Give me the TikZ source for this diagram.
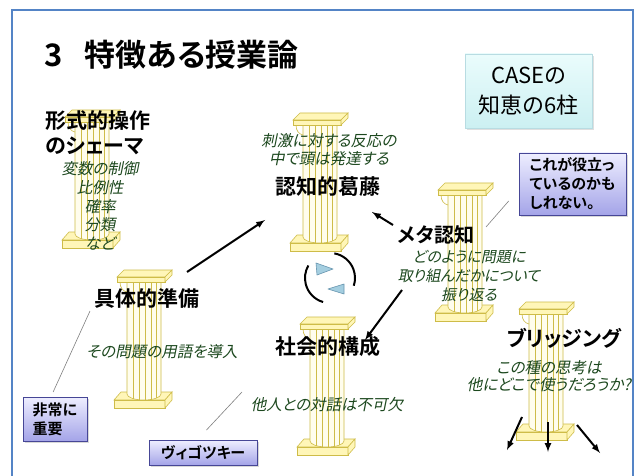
\documentclass[tikz,border=0pt]{standalone}
\usepackage{fontspec}
\usetikzlibrary{positioning,shadows}

\newfontfamily\jp[RawFeature=+palt,BoldFont={Noto Sans CJK JP Bold}]{Noto Sans CJK JP}
\newfontfamily\jpslant[RawFeature=+palt,FakeSlant=0.2]{Noto Sans CJK JP}

\definecolor{frameblue}{RGB}{84,132,198}
\definecolor{pillarline}{RGB}{206,188,72}
\definecolor{pillarfill}{RGB}{255,246,184}
\definecolor{hintgreen}{RGB}{28,72,30}
\definecolor{notetop}{RGB}{238,238,255}
\definecolor{notebottom}{RGB}{164,164,232}
\definecolor{noteedge}{RGB}{70,70,150}
\definecolor{casetop}{RGB}{234,252,252}
\definecolor{casebottom}{RGB}{204,240,242}
\definecolor{caseedge}{RGB}{184,220,226}
\definecolor{cyclefill}{RGB}{164,206,224}
\definecolor{cycleedge}{RGB}{104,150,176}

\tikzstyle{pillar line} = [pillarline, line width=0.6pt]
\tikzstyle{pillar face} = [pillar line, fill=pillarfill]
\tikzstyle{pillar shaft} = [pillar line, fill=pillarfill!25]
\tikzstyle{head} = [font=\jp\bfseries\fontsize{21}{25}\selectfont, align=center, inner sep=1pt]
\tikzstyle{hint} = [font=\jpslant\fontsize{15.5}{18.6}\selectfont, text=hintgreen, align=center, inner sep=1pt]
\tikzstyle{note} = [draw=noteedge, line width=0.8pt, top color=notetop, bottom color=notebottom,
   font=\jp\bfseries\fontsize{15}{19}\selectfont, align=left,
   drop shadow={shadow xshift=2pt, shadow yshift=-2pt, opacity=0.3}]
\tikzstyle{legend} = [draw=caseedge, top color=casetop, bottom color=casebottom,
   font=\jp\fontsize{22}{30}\selectfont, align=center,
   drop shadow={shadow xshift=2pt, shadow yshift=-2pt, opacity=0.25}]
\tikzstyle{pointer} = [gray, line width=0.6pt]
\tikzstyle{push} = [black, line width=2pt, -latex]
\tikzstyle{turn} = [black, line width=2pt]
\tikzstyle{turn head} = [draw=cycleedge, fill=cyclefill, line width=0.6pt, line join=round]

\tikzset{
  pillar/.pic={
    % base slab
    \filldraw[pillar face] (-30,130) -- (-23,122) -- (28,122) -- (21,130) -- cycle;
    \filldraw[pillar face] (-30,130) rectangle (21,138);
    \filldraw[pillar face] (21,130) -- (28,122) -- (28,130) -- (21,138) -- cycle;
    % fluted shaft
    \filldraw[pillar shaft] (-17,12) -- (-17,124)
      arc[start angle=180, end angle=0, x radius=17, y radius=6] -- (17,12) -- cycle;
    \foreach \x/\y in {-11/128.5, -5/129.6, 1/130, 7/129.5, 12/128.2}
      \draw[pillar line] (\x,12) -- (\x,\y);
    % capital with its scroll
    \draw[pillar line] (-24,12) .. controls (-24,18) and (-21,21) .. (-17,22);
    \filldraw[pillar face] (-27,7) -- (-20,0) -- (28,0) -- (21,7) -- cycle;
    \filldraw[pillar face] (-27,7) rectangle (21,12);
    \filldraw[pillar face] (21,7) -- (28,0) -- (28,5) -- (21,12) -- cycle;
  }
}

\begin{document}
\begin{tikzpicture}[x=1pt, y=-1pt]
  \useasboundingbox (0,0) rectangle (635,476);
  \fill[white] (0,0) rectangle (635,476);
  \draw[frameblue, line width=2pt] (12,482) |- (633,10) -- (633,482);

  % the six pillars
  \foreach \px/\py in {92/110, 320/113, 144/270, 327/317, 465/183, 546/302}
    \pic at (\px,\py) {pillar};

  \node[anchor=west, inner sep=0pt, font=\jp\bfseries\fontsize{31}{36}\selectfont] (title)
    at (44,55) {3\hspace{22pt}特徴ある授業論};
  \node[legend, minimum width=127pt, minimum height=74pt] (case) at (528.5,91) {CASEの\\知恵の6柱};

  % pillar names and what they mean
  \node[head, align=left, anchor=west] (formal) at (44,132.5) {形式的操作\\のシェーマ};
  \node[hint] (formal list) at (100,206) {変数の制御\\比例性\\確率\\分類\\など};

  \node[hint, font=\jpslant\fontsize{15.5}{18}\selectfont] (stimulus) at (329,150) {刺激に対する反応の\\中で頭は発達する};
  \node[head] (conflict) at (328,187) {認知的葛藤};

  \node[head, font=\jp\bfseries\fontsize{20}{24}\selectfont] (meta) at (436,235) {メタ認知};
  \node[hint, font=\jpslant\fontsize{15}{19}\selectfont] (reflect) at (469,276) {どのように問題に\\取り組んだかについて\\振り返る};

  \node[head] (prep) at (147,299) {具体的準備};
  \node[hint] (terms) at (162,352) {その問題の用語を導入};

  \node[head] (social) at (328,347) {社会的構成};
  \node[hint] (dialogue) at (327,405) {他人との対話は不可欠};

  \node[head] (bridge) at (564,338) {ブリッジング};
  \node[hint, font=\jpslant\fontsize{15.5}{17}\selectfont] (transfer) at (549,376) {この種の思考は\\他にどこで使うだろうか?};

  % side notes
  \node[note, minimum width=107pt, minimum height=62pt] (useful) at (572.5,184) {これが役立っ\\ているのかも\\しれない。};
  \node[note, minimum width=64pt, minimum height=44pt] (vital) at (55,419) {非常に\\重要};
  \node[note, minimum width=108pt, minimum height=25pt] (vygotsky) at (203,452.5) {ヴィゴツキー};

  \coordinate (meta foot) at (486,227);
  \coordinate (prep side) at (90,311);
  \coordinate (social side) at (242,392);
  \draw[pointer, shorten <=15pt] (useful.186) -- (meta foot);
  \draw[pointer, shorten <=5pt] (vital.100) -- (prep side);
  \draw[pointer, shorten <=13pt] (vygotsky.113) -- (social side);

  % arrows between pillars
  \draw[push] ([shift={(40,-27)}]prep.center) -- ([shift={(-63,33)}]conflict.center);
  \draw[push] ([shift={(-43,-10)}]meta.center) -- ([shift={(44,25)}]conflict.center);
  \draw[push] ([shift={(-67,14)}]reflect.center) -- ([shift={(37,-7)}]social.center);
  \foreach \sx/\sy/\ex/\ey in {-27/41/-42/74, -1/46/-1/76, 28/49/51/77}
    \draw[push] ([shift={(\sx,\sy)}]transfer.center) -- ([shift={(\ex,\ey)}]transfer.center);

  % turning cycle
  \coordinate (spin) at (330,278);
  \draw[turn] ([shift={(-80:25)}]spin) arc[start angle=-80, end angle=18, radius=25];
  \filldraw[turn head] ([shift={(-2,11)}]spin) -- ([shift={(14,6)}]spin) -- ([shift={(14,16)}]spin) -- cycle;
  \draw[turn] ([shift={(106:25)}]spin) arc[start angle=106, end angle=210, radius=25];
  \filldraw[turn head] ([shift={(3,-9)}]spin) -- ([shift={(-14,-15)}]spin) -- ([shift={(-13,-3)}]spin) -- cycle;
\end{tikzpicture}
\end{document}
